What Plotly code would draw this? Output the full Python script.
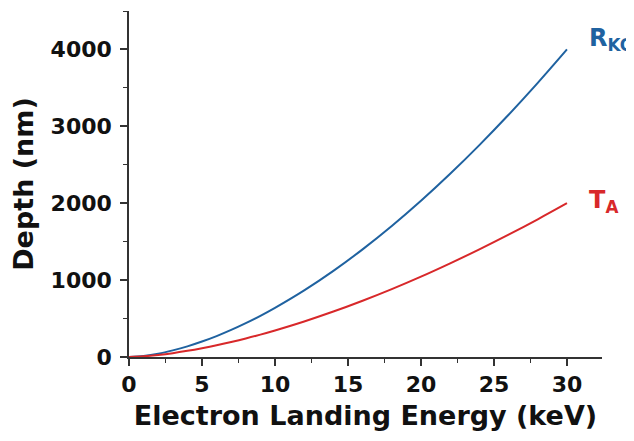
import plotly.graph_objects as go

energy_kev = [0, 1, 2, 3, 4, 5, 6, 7, 8, 9, 10, 12, 14, 16, 18, 20, 22, 24, 26, 28, 30]
r_ko_nm = [0, 14, 43, 86, 138, 201, 272, 352, 440, 535, 639, 866, 1120, 1400, 1704, 2032, 2383, 2756, 3150, 3565, 4000]
t_a_nm = [0, 9, 26, 50, 80, 114, 152, 195, 241, 291, 345, 462, 591, 732, 883, 1045, 1218, 1400, 1591, 1791, 2000]

x_ticks = [0, 5, 10, 15, 20, 25, 30]
y_ticks = [0, 1000, 2000, 3000, 4000]

BLUE = "#1f62a0"
RED = "#d8282a"
FONT = "DejaVu Sans"

fig = go.Figure()
fig.add_trace(go.Scatter(x=energy_kev, y=r_ko_nm, mode="lines",
                         line=dict(color=BLUE, width=2, shape="spline"),
                         cliponaxis=False, showlegend=False))
fig.add_trace(go.Scatter(x=energy_kev, y=t_a_nm, mode="lines",
                         line=dict(color=RED, width=2, shape="spline"),
                         cliponaxis=False, showlegend=False))

fig.add_annotation(x=31.35, y=4130, xref="x", yref="y", text="<b>R<sub>KO</sub></b>",
                   showarrow=False, xanchor="left", yanchor="middle",
                   font=dict(family=FONT, size=24, color=BLUE))
fig.add_annotation(x=31.4, y=2020, xref="x", yref="y", text="<b>T<sub>A</sub></b>",
                   showarrow=False, xanchor="left", yanchor="middle",
                   font=dict(family=FONT, size=24, color=RED))

axis_common = dict(showline=True, linecolor="#333333", linewidth=1.5,
                   showgrid=False, zeroline=False, ticks="outside",
                   tickcolor="#333333", tickwidth=1.5, ticklen=7,
                   automargin=False,
                   tickfont=dict(family=FONT, size=22, color="#111111", weight="bold"))

fig.update_xaxes(range=[0, 32.4], tickvals=x_ticks,
                 minor=dict(dtick=2.5, tick0=0, ticks="outside", ticklen=4,
                            tickcolor="#333333", tickwidth=1.2),
                 title=dict(text="<b>Electron Landing Energy (keV)</b>",
                            font=dict(family=FONT, size=27, color="#111111"), standoff=10),
                 **axis_common)
fig.update_yaxes(range=[0, 4500], tickvals=y_ticks,
                 minor=dict(dtick=500, tick0=0, ticks="outside", ticklen=4,
                            tickcolor="#333333", tickwidth=1.2),
                 title=dict(text="<b>Depth (nm)</b>",
                            font=dict(family=FONT, size=27, color="#111111"), standoff=10),
                 ticklabelstandoff=4,
                 **axis_common)

# page body adds an 8px offset, so the figure is sized to fit the remaining window
fig.update_layout(width=626, height=433, plot_bgcolor="white", paper_bgcolor="white",
                  margin=dict(l=121, r=32, t=3, b=84))

fig.write_html("out.html")
